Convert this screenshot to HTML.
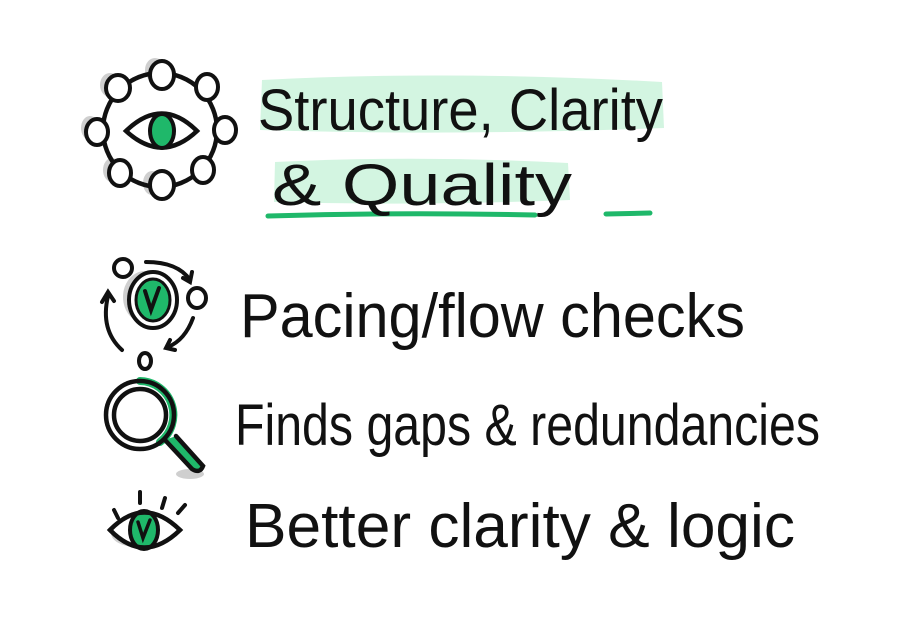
<!DOCTYPE html>
<html><head><style>
html,body{margin:0;padding:0;background:#fff;}
svg{display:block;}
text{font-family:"Liberation Sans",sans-serif;fill:#111;}
</style></head><body>
<svg width="903" height="620" viewBox="0 0 903 620" xmlns="http://www.w3.org/2000/svg">
<rect width="903" height="620" fill="#fff"/>
<path d="M262 80 Q450 70 662 82 L664 128 Q450 136 260 130 Z" fill="#d3f5e1"/>
<path d="M275 162 Q420 155 568 163 L570 200 Q420 206 274 202 Z" fill="#d3f5e1"/>
<path d="M268 216 Q400 212 535 215" stroke="#1fb86a" stroke-width="5" fill="none" stroke-linecap="round"/>
<path d="M606 214 L650 213" stroke="#1fb86a" stroke-width="5" fill="none" stroke-linecap="round"/>
<text x="258" y="130" font-size="58" textLength="405" lengthAdjust="spacingAndGlyphs">Structure, Clarity</text>
<text x="272" y="205" font-size="58" textLength="300" lengthAdjust="spacingAndGlyphs">&amp; Quality</text>
<text x="240" y="337" font-size="62" textLength="505" lengthAdjust="spacingAndGlyphs">Pacing/flow checks</text>
<text x="235" y="445" font-size="58" textLength="585" lengthAdjust="spacingAndGlyphs">Finds gaps &amp; redundancies</text>
<text x="245" y="547" font-size="62" textLength="550" lengthAdjust="spacingAndGlyphs">Better clarity &amp; logic</text>

<!-- shadows -->
<g fill="#cfcfcf">
<ellipse cx="155" cy="70" rx="10" ry="12"/>
<ellipse cx="110" cy="85" rx="10" ry="12"/>
<ellipse cx="90" cy="128" rx="9" ry="12"/>
<ellipse cx="112" cy="170" rx="9" ry="12"/>
<ellipse cx="152" cy="183" rx="9" ry="12"/>
<ellipse cx="145" cy="297" rx="22" ry="26"/>
<ellipse cx="136" cy="533" rx="25" ry="14"/>
<ellipse cx="190" cy="474" rx="14" ry="5"/>
</g>
<g stroke="#111" stroke-width="4" fill="none" stroke-linecap="round">
<circle cx="160" cy="130" r="57" stroke-width="4.5"/>
<g fill="#fff">
<ellipse cx="162" cy="75" rx="12" ry="14"/>
<ellipse cx="118" cy="88" rx="12" ry="13"/>
<ellipse cx="207" cy="87" rx="11" ry="13"/>
<ellipse cx="97" cy="132" rx="11" ry="13"/>
<ellipse cx="225" cy="130" rx="11" ry="13"/>
<ellipse cx="120" cy="173" rx="11" ry="13"/>
<ellipse cx="162" cy="185" rx="12" ry="14"/>
<ellipse cx="203" cy="170" rx="11" ry="13"/>
</g>
<path d="M126 131 Q162 96 197 131 Q162 164 126 131 Z" stroke-width="4.5"/>
<ellipse cx="162" cy="131" rx="12" ry="17" fill="#1fb86a"/>
<ellipse cx="153" cy="300" rx="24" ry="28" fill="#fff"/>
<ellipse cx="153" cy="300" rx="17" ry="21" fill="#1fb86a" stroke-width="3"/>
<path d="M145 291 L151 310 L159 288" stroke-width="4"/>
<ellipse cx="123" cy="268" rx="9" ry="9"/>
<ellipse cx="197" cy="298" rx="9" ry="10"/>
<ellipse cx="145" cy="361" rx="6" ry="8"/>
<path d="M146 262 Q178 262 190 280 M183 278 L190 282 L192 272"/>
<path d="M193 318 Q185 340 168 347 M170 340 L166 348 L175 350"/>
<path d="M122 350 Q100 330 108 296 M102 302 L108 292 L114 301"/>
<circle cx="140" cy="415" r="34" fill="#fff"/>
<path d="M140 381 A34 34 0 0 1 160 442" stroke="#1fb86a" stroke-width="8"/>
<circle cx="140" cy="415" r="26" stroke-width="4.5"/>
<circle cx="140" cy="415" r="34" stroke-width="4.5"/>
<path d="M165 440 L192 469 Q200 474 203 466 L176 436" fill="#1fb86a" stroke-width="4.5"/>
<path d="M110 530 Q144 495 180 530 Q144 565 110 530 Z" fill="#fff"/>
<ellipse cx="144" cy="530" rx="14" ry="19" fill="#1fb86a"/>
<path d="M110 530 Q144 495 180 530 Q144 565 110 530 Z" stroke-width="4.5"/>
<path d="M138 522 L143 538 L150 520" stroke-width="3.5"/>
<path d="M114 510 L118 518 M140 492 L140 503 M165 498 L162 508 M185 505 L178 513"/>
</g>
</svg>
</body></html>
